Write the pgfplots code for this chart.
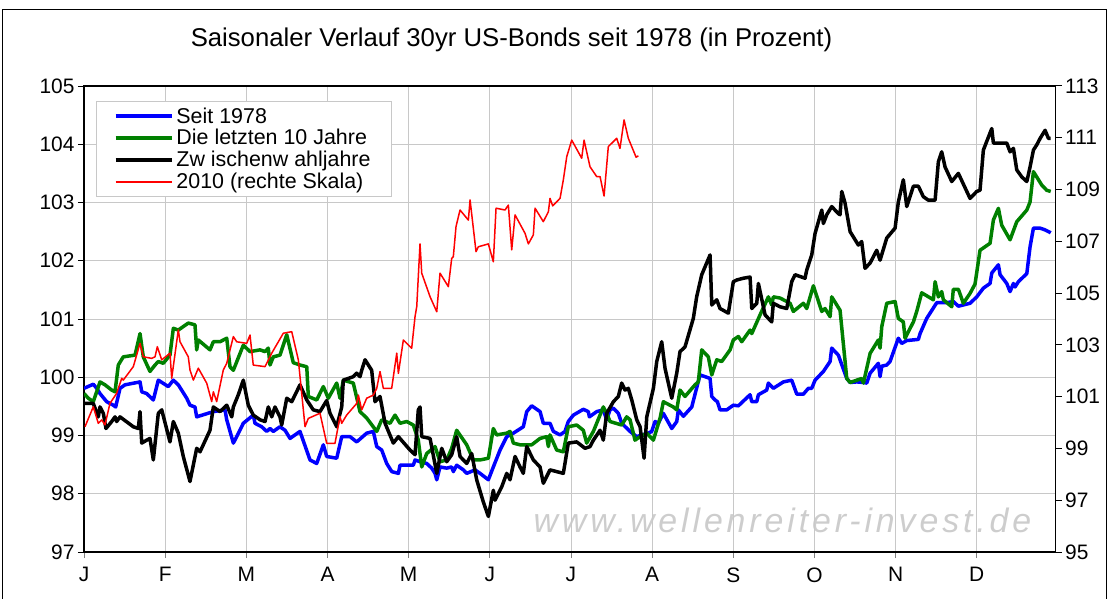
\documentclass[border=0pt]{standalone}
\usepackage{fontspec}
\setmainfont{Liberation Sans}
\usepackage{pgfplots}
\pgfplotsset{compat=1.18}
\definecolor{gridgray}{RGB}{200,200,200}
\definecolor{wmgray}{RGB}{205,205,205}
\begin{document}
\begin{tikzpicture}
\useasboundingbox (-84bp,-47bp) rectangle (1025bp,552bp);
\draw[line width=1bp] (-81bp,-47bp) -- (-81bp,542bp) -- (1022bp,542bp) -- (1022bp,-47bp);
\node[font=\fontsize{25.8}{29}\selectfont] at (427.5bp,512bp) {Saisonaler Verlauf 30yr US-Bonds seit 1978 (in Prozent)};
\node[font=\fontsize{34}{38}\selectfont\itshape\addfontfeature{LetterSpace=11.5}, text=wmgray] at (698.5bp,32bp) {www.wellenreiter-invest.de};
\begin{axis}[
  at={(0,0)}, anchor=south west,
  scale only axis, width=971.7bp, height=466bp,
  xmin=0, xmax=11.9, ymin=97, ymax=105,
  xtick={0,0.994,1.988,2.982,3.976,4.969,5.963,6.957,7.951,8.945,9.939,10.933},
  xticklabels={J,F,M,A,M,J,J,A,S,O,N,D},
  ytick={97,98,...,105},
  xtick pos=bottom, ytick pos=left,
  tick align=outside, major tick length=6bp,
  xmajorgrids, ymajorgrids,
  major grid style={gridgray, line width=0.8bp},
  x tick style={gray, line width=0.8bp},
  y tick style={black, line width=1bp},
  axis line style={black, line width=1.3bp},
  /pgf/number format/assume math mode=true,
  tick label style={font=\fontsize{21}{25}\selectfont},
  xticklabel style={yshift=-6bp},
  legend cell align=left,
  legend style={at={(axis description cs:0.0124,0.968)}, anchor=north west,
    draw=gridgray, line width=0.8bp, font=\fontsize{21.5}{22.5}\selectfont,
    inner xsep=17.5bp, inner ysep=6bp, row sep=4.5bp,
    nodes={inner xsep=3bp, inner ysep=0.2bp}},
  legend image code/.code={\draw[#1] (0bp,0bp) -- (56bp,0bp);},
]
\addplot[blue, line width=3.5bp, line join=round] coordinates {
(0,99.81)(0.114,99.88)(0.156,99.81)(0.196,99.72)(0.278,99.58)(0.359,99.52)(0.388,99.49)(0.441,99.81)(0.502,99.87)(0.686,99.92)(0.707,99.75)(0.768,99.72)(0.849,99.61)(0.910,99.95)(1.032,99.84)(1.094,99.95)(1.155,99.87)(1.258,99.64)(1.298,99.52)(1.359,99.49)(1.380,99.32)(1.584,99.41)(1.727,99.44)(1.748,99.27)(1.829,98.87)(1.870,98.98)(1.951,99.21)(2.073,99.35)(2.094,99.21)(2.176,99.15)(2.238,99.07)(2.278,99.12)(2.318,99.07)(2.400,99.15)(2.462,99.09)(2.523,98.95)(2.645,99.07)(2.768,98.58)(2.850,98.52)(2.931,98.84)(2.972,98.64)(3.095,98.61)(3.156,98.98)(3.258,98.98)(3.340,98.89)(3.462,99.04)(3.543,99.07)(3.585,98.81)(3.646,98.75)(3.707,98.52)(3.769,98.38)(3.850,98.35)(3.870,98.49)(4.033,98.49)(4.054,98.58)(4.115,98.55)(4.197,98.52)(4.258,98.44)(4.299,98.35)(4.320,98.24)(4.360,98.46)(4.442,98.44)(4.503,98.46)(4.523,98.38)(4.564,98.49)(4.646,98.41)(4.687,98.35)(4.789,98.41)(4.850,98.35)(4.952,98.24)(5.013,98.46)(5.095,98.75)(5.177,98.98)(5.258,99.04)(5.380,99.15)(5.422,99.41)(5.483,99.51)(5.585,99.41)(5.625,99.21)(5.707,99.21)(5.748,99.07)(5.830,99.01)(5.891,99.07)(5.931,99.24)(5.993,99.35)(6.115,99.45)(6.176,99.41)(6.189,99.32)(6.279,99.41)(6.360,99.44)(6.401,99.27)(6.442,99.44)(6.483,99.47)(6.544,99.38)(6.585,99.21)(6.687,99.07)(6.769,98.98)(6.830,99.01)(6.911,99.04)(6.953,99.07)(6.993,99.24)(7.034,99.21)(7.095,99.38)(7.198,99.12)(7.259,99.24)(7.279,99.44)(7.340,99.33)(7.443,99.49)(7.544,100.04)(7.667,99.98)(7.688,99.67)(7.728,99.61)(7.757,99.58)(7.789,99.44)(7.871,99.44)(7.952,99.52)(8.014,99.51)(8.157,99.70)(8.178,99.58)(8.239,99.58)(8.259,99.70)(8.361,99.78)(8.381,99.90)(8.442,99.81)(8.565,99.92)(8.667,99.95)(8.729,99.71)(8.810,99.71)(8.871,99.81)(8.912,99.81)(8.953,99.95)(9.055,100.10)(9.137,100.27)(9.157,100.50)(9.238,100.38)(9.341,99.98)(9.382,99.91)(9.463,99.92)(9.545,99.91)(9.586,99.90)(9.627,100.07)(9.728,100.24)(9.749,100.01)(9.770,100.19)(9.831,100.21)(9.871,100.27)(9.973,100.67)(10.014,100.58)(10.076,100.63)(10.218,100.65)(10.239,100.75)(10.320,101.01)(10.443,101.28)(10.566,101.28)(10.646,101.30)(10.708,101.22)(10.851,101.27)(10.933,101.38)(11.014,101.53)(11.096,101.61)(11.117,101.79)(11.198,101.93)(11.219,101.76)(11.301,101.61)(11.341,101.47)(11.382,101.61)(11.402,101.55)(11.443,101.64)(11.546,101.78)(11.586,102.24)(11.627,102.56)(11.709,102.56)(11.770,102.53)(11.839,102.48)
};
\addlegendentry{Seit 1978}
\addplot[color={rgb,255:red,0;green,128;blue,0}, line width=3.5bp, line join=round] coordinates {
(0,99.72)(0.053,99.64)(0.114,99.58)(0.196,99.92)(0.257,99.87)(0.339,99.78)(0.380,99.75)(0.420,100.21)(0.481,100.35)(0.625,100.38)(0.686,100.75)(0.726,100.35)(0.808,100.10)(0.870,100.21)(0.910,100.27)(0.971,100.24)(1.053,100.38)(1.094,100.84)(1.155,100.81)(1.277,100.93)(1.359,100.90)(1.380,100.47)(1.400,100.64)(1.543,100.47)(1.584,100.61)(1.666,100.61)(1.748,100.67)(1.788,100.18)(1.829,100.12)(1.951,100.55)(2.033,100.44)(2.156,100.47)(2.217,100.44)(2.257,100.50)(2.278,100.21)(2.318,100.35)(2.400,100.38)(2.483,100.73)(2.563,100.25)(2.645,100.21)(2.728,100.18)(2.747,99.67)(2.850,99.61)(2.931,99.84)(2.992,99.64)(3.095,99.90)(3.135,99.64)(3.176,99.95)(3.298,99.90)(3.380,99.41)(3.462,99.30)(3.585,99.07)(3.646,99.27)(3.748,99.21)(3.809,99.35)(3.870,99.21)(3.952,99.24)(4.033,99.18)(4.094,98.92)(4.136,98.46)(4.197,98.69)(4.299,98.81)(4.360,98.55)(4.442,98.58)(4.503,98.78)(4.564,99.09)(4.687,98.84)(4.768,98.58)(4.850,98.58)(4.952,98.61)(5.013,99.12)(5.054,99.01)(5.177,99.04)(5.217,99.07)(5.258,98.87)(5.340,98.84)(5.483,98.84)(5.585,98.95)(5.666,98.98)(5.687,98.81)(5.707,99.01)(5.789,98.75)(5.870,98.72)(5.931,99.15)(6.034,99.18)(6.115,99.09)(6.156,98.87)(6.238,99.07)(6.360,99.49)(6.401,99.38)(6.442,99.24)(6.585,99.18)(6.646,99.32)(6.687,99.27)(6.748,98.92)(6.810,98.98)(6.892,99.04)(6.973,98.92)(7.055,99.30)(7.095,99.58)(7.217,99.49)(7.259,99.44)(7.299,99.78)(7.360,99.67)(7.483,99.87)(7.523,99.92)(7.565,100.47)(7.646,100.35)(7.688,100.04)(7.749,100.30)(7.810,100.27)(7.912,100.47)(7.952,100.64)(8.014,100.70)(8.055,100.61)(8.157,100.81)(8.178,100.75)(8.279,101.07)(8.381,101.38)(8.422,101.24)(8.442,101.38)(8.524,101.36)(8.647,101.27)(8.687,101.13)(8.810,101.27)(8.851,101.18)(8.932,101.57)(9.035,101.13)(9.075,101.18)(9.137,101.04)(9.157,101.38)(9.259,101.15)(9.341,99.98)(9.382,99.91)(9.525,99.98)(9.545,99.90)(9.627,100.41)(9.728,100.64)(9.749,100.50)(9.770,100.87)(9.831,101.27)(9.933,101.30)(9.973,101.01)(10.034,100.95)(10.055,100.67)(10.157,100.95)(10.198,101.13)(10.259,101.45)(10.402,101.33)(10.423,101.64)(10.463,101.38)(10.504,101.47)(10.524,101.33)(10.627,101.21)(10.646,101.51)(10.708,101.51)(10.769,101.27)(10.851,101.44)(10.912,101.60)(10.973,102.18)(11.096,102.30)(11.137,102.70)(11.198,102.90)(11.239,102.61)(11.341,102.36)(11.423,102.67)(11.546,102.87)(11.586,103.01)(11.627,103.53)(11.729,103.30)(11.790,103.21)(11.839,103.19)
};
\addlegendentry{Die letzten 10 Jahre}
\addplot[black, line width=3.5bp, line join=round] coordinates {
(0,99.55)(0.114,99.55)(0.175,99.32)(0.196,99.49)(0.237,99.38)(0.269,99.12)(0.339,99.24)(0.380,99.32)(0.400,99.24)(0.441,99.32)(0.604,99.15)(0.665,99.12)(0.686,99.41)(0.707,98.87)(0.768,98.92)(0.808,98.95)(0.849,98.58)(0.910,99.38)(0.952,99.44)(1.053,98.89)(1.094,99.24)(1.155,99.04)(1.216,98.64)(1.298,98.21)(1.380,98.78)(1.421,98.72)(1.543,99.09)(1.584,99.49)(1.666,99.41)(1.748,99.52)(1.809,99.32)(1.829,99.49)(1.890,99.70)(1.951,99.95)(2.012,99.52)(2.073,99.35)(2.156,99.27)(2.217,99.24)(2.257,99.49)(2.299,99.32)(2.339,99.49)(2.400,99.32)(2.421,99.18)(2.483,99.64)(2.544,99.58)(2.645,99.87)(2.728,99.61)(2.808,99.44)(2.890,99.41)(2.972,99.60)(3.013,99.38)(3.095,99.15)(3.156,99.49)(3.176,99.95)(3.298,100.01)(3.340,100.07)(3.380,100.01)(3.401,100.12)(3.442,100.30)(3.523,100.12)(3.564,99.58)(3.625,99.67)(3.687,99.21)(3.788,98.87)(3.850,98.98)(3.993,98.75)(4.054,98.67)(4.094,99.44)(4.115,99.49)(4.136,98.98)(4.238,98.95)(4.320,98.35)(4.381,98.78)(4.442,98.55)(4.503,98.67)(4.564,98.98)(4.605,98.64)(4.687,98.52)(4.748,98.69)(4.809,98.24)(4.890,97.86)(4.952,97.61)(5.013,98.06)(5.034,97.89)(5.116,98.12)(5.177,98.35)(5.217,98.24)(5.279,98.64)(5.340,98.46)(5.380,98.35)(5.422,98.81)(5.503,98.58)(5.585,98.46)(5.625,98.18)(5.707,98.41)(5.789,98.38)(5.870,98.35)(5.931,98.87)(6.034,98.89)(6.136,98.78)(6.197,98.81)(6.238,98.92)(6.320,99.09)(6.360,98.92)(6.401,99.38)(6.483,99.58)(6.544,99.67)(6.585,99.90)(6.626,99.78)(6.666,99.81)(6.708,99.61)(6.769,99.27)(6.810,99.15)(6.859,98.61)(6.892,99.32)(6.973,99.81)(7.014,100.27)(7.075,100.61)(7.116,100.15)(7.198,99.64)(7.259,100.07)(7.299,100.44)(7.360,100.52)(7.462,101.01)(7.503,101.38)(7.565,101.76)(7.667,102.10)(7.688,101.24)(7.749,101.33)(7.789,101.18)(7.891,101.10)(7.952,101.64)(7.994,101.67)(8.075,101.70)(8.157,101.72)(8.178,101.18)(8.239,101.27)(8.259,101.61)(8.341,101.07)(8.422,100.95)(8.442,101.27)(8.524,101.21)(8.606,101.18)(8.667,101.64)(8.708,101.76)(8.830,101.70)(8.851,101.84)(8.912,102.10)(8.953,102.47)(9.035,102.87)(9.055,102.64)(9.096,102.79)(9.157,102.93)(9.238,102.81)(9.259,102.79)(9.280,103.19)(9.320,102.99)(9.382,102.50)(9.483,102.27)(9.524,102.33)(9.565,101.87)(9.627,101.96)(9.708,102.18)(9.749,102.01)(9.831,102.39)(9.933,102.56)(9.973,103.01)(10.034,103.39)(10.076,102.93)(10.157,103.28)(10.218,103.28)(10.279,103.10)(10.340,103.04)(10.423,103.04)(10.463,103.70)(10.504,103.87)(10.545,103.61)(10.627,103.36)(10.708,103.50)(10.851,103.07)(10.933,103.19)(10.973,103.21)(11.014,103.90)(11.117,104.27)(11.137,104.02)(11.301,104.02)(11.341,103.87)(11.382,103.93)(11.423,103.56)(11.484,103.44)(11.546,103.36)(11.586,103.61)(11.627,103.90)(11.668,103.99)(11.709,104.10)(11.770,104.24)(11.811,104.10)(11.839,104.10)
};
\addlegendentry{Zw ischenw ahljahre}
\addlegendimage{red, line width=1.5bp}
\addlegendentry{2010 (rechte Skala)}
\end{axis}
\begin{axis}[
  at={(0,0)}, anchor=south west,
  scale only axis, width=971.7bp, height=466bp,
  xmin=0, xmax=11.9, ymin=95, ymax=113,
  axis x line=none, axis y line*=right,
  ytick={95,97,...,113},
  tick align=outside, major tick length=6bp,
  y tick style={black, line width=1bp},
  axis line style={black, line width=1.3bp},
  /pgf/number format/assume math mode=true,
  tick label style={font=\fontsize{21}{25}\selectfont},
]
\addplot[red, line width=1.5bp, line join=round] coordinates {
(0.012,99.84)(0.114,100.61)(0.175,99.97)(0.217,100.10)(0.257,99.91)(0.318,100.74)(0.400,101.13)(0.462,101.71)(0.481,101.64)(0.604,102.16)(0.686,103.06)(0.726,102.54)(0.829,102.48)(0.870,102.54)(0.898,102.93)(0.952,102.42)(1.053,102.68)(1.074,101.71)(1.155,103.58)(1.176,103.12)(1.277,102.54)(1.298,102.03)(1.339,101.64)(1.400,102.10)(1.503,101.52)(1.564,100.81)(1.584,101.19)(1.625,100.81)(1.706,102.03)(1.748,102.29)(1.829,103.32)(1.870,103.12)(1.993,103.06)(2.033,103.38)(2.073,102.22)(2.217,102.16)(2.238,102.29)(2.299,102.68)(2.441,103.45)(2.544,103.51)(2.625,102.42)(2.707,99.84)(2.747,100.16)(2.890,100.36)(2.972,99.20)(3.074,99.20)(3.135,100.23)(3.156,99.97)(3.217,100.29)(3.340,100.74)(3.360,101.06)(3.401,100.49)(3.462,100.94)(3.543,101.06)(3.585,101.32)(3.625,101.97)(3.666,101.32)(3.768,101.32)(3.830,102.68)(3.850,101.90)(3.911,103.19)(4.013,102.87)(4.054,104.09)(4.075,104.48)(4.115,106.90)(4.136,105.77)(4.238,104.86)(4.320,104.28)(4.360,105.77)(4.462,105.25)(4.503,106.34)(4.523,106.41)(4.556,107.57)(4.605,108.21)(4.707,107.82)(4.728,108.60)(4.801,106.60)(4.829,106.79)(4.952,106.90)(5.013,106.21)(5.046,108.28)(5.156,108.21)(5.197,108.40)(5.238,106.67)(5.279,108.02)(5.401,107.31)(5.442,106.90)(5.503,107.25)(5.524,108.28)(5.625,107.76)(5.687,108.14)(5.707,108.66)(5.740,108.37)(5.830,108.66)(5.870,109.37)(5.912,110.27)(5.973,110.91)(6.095,110.21)(6.124,110.91)(6.197,109.88)(6.279,109.50)(6.320,109.50)(6.369,108.75)(6.421,110.66)(6.524,110.98)(6.564,110.59)(6.614,111.69)(6.666,110.98)(6.761,110.25)(6.789,110.30)
};
\end{axis}
\end{tikzpicture}
\end{document}
